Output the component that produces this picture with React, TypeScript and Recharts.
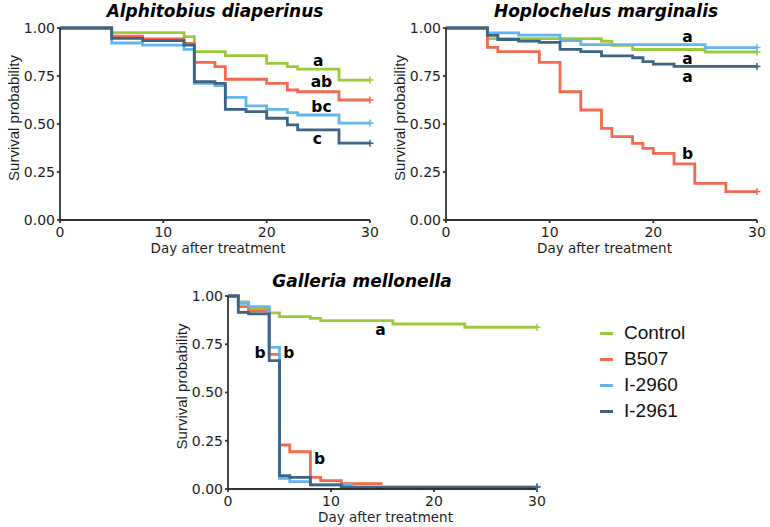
import { LineChart, Line, XAxis, YAxis, ReferenceDot, Legend, Label } from "recharts";

const seriesNames = ["Control", "B507", "I-2960", "I-2961"];
const seriesColors = ["#9BCB3C", "#F26A4F", "#63B5EC", "#3D6385"];

const xTicks = [0, 10, 20, 30];
const yTicks = [0, 0.25, 0.5, 0.75, 1];

// Alphitobius diaperinus
const adControlDays = [0, 5, 12, 13, 16, 20, 22, 23, 27, 30];
const adControlSurv = [1, 0.976, 0.955, 0.877, 0.856, 0.816, 0.799, 0.786, 0.729, 0.729];
const adB507Days = [0, 5, 8, 12, 13, 15, 16, 20, 22, 23, 27, 30];
const adB507Surv = [1, 0.958, 0.943, 0.92, 0.821, 0.799, 0.733, 0.712, 0.677, 0.668, 0.625, 0.625];
const adI2960Days = [0, 5, 8, 12, 13, 15, 16, 18, 20, 22, 23, 27, 30];
const adI2960Surv = [1, 0.922, 0.911, 0.889, 0.712, 0.7, 0.639, 0.594, 0.576, 0.559, 0.547, 0.505, 0.505];
const adI2961Days = [0, 5, 8, 12, 13, 15, 16, 18, 20, 22, 23, 27, 30];
const adI2961Surv = [1, 0.946, 0.934, 0.911, 0.72, 0.712, 0.576, 0.564, 0.53, 0.495, 0.469, 0.4, 0.4];
const adLetters = ["a", "ab", "bc", "c"];
const adLetterDays = [25, 25.3, 25.3, 24.9];
const adLetterSurv = [0.833, 0.72, 0.59, 0.427];

// Hoplochelus marginalis
const hmControlDays = [0, 4, 15, 16, 18, 25, 30];
const hmControlSurv = [1, 0.945, 0.93, 0.91, 0.888, 0.875, 0.875];
const hmB507Days = [0, 4, 5, 9, 11, 13, 15, 16, 18, 19, 20, 22, 24, 27, 30];
const hmB507Surv = [1, 0.899, 0.877, 0.821, 0.668, 0.573, 0.477, 0.434, 0.399, 0.373, 0.347, 0.292, 0.191, 0.148, 0.148];
const hmI2960Days = [0, 4, 7, 11, 13, 25, 30];
const hmI2960Surv = [1, 0.975, 0.963, 0.935, 0.913, 0.898, 0.898];
const hmI2961Days = [0, 4, 5, 7, 9, 11, 13, 15, 18, 19, 20, 22, 30];
const hmI2961Surv = [1, 0.962, 0.94, 0.932, 0.925, 0.889, 0.877, 0.855, 0.845, 0.825, 0.812, 0.8, 0.8];
const hmLetters = ["a", "a", "a", "b"];
const hmLetterDays = [23.3, 23.3, 23.3, 23.3];
const hmLetterSurv = [0.955, 0.84, 0.745, 0.344];

// Galleria mellonella
const gmControlDays = [0, 1, 2, 4, 5, 8, 9, 16, 23, 30];
const gmControlSurv = [1, 0.97, 0.935, 0.913, 0.893, 0.884, 0.872, 0.855, 0.838, 0.838];
const gmB507Days = [0, 1, 2, 4, 5, 6, 8, 9, 11, 15];
const gmB507Surv = [1, 0.945, 0.922, 0.698, 0.228, 0.193, 0.06, 0.043, 0.028, 0.028];
const gmI2960Days = [0, 1, 2, 4, 5, 6, 8, 12, 30];
const gmI2960Surv = [1, 0.962, 0.945, 0.734, 0.055, 0.038, 0.021, 0.01, 0.01];
const gmI2961Days = [0, 1, 2, 4, 5, 6, 8, 11, 30];
const gmI2961Surv = [1, 0.915, 0.907, 0.665, 0.069, 0.06, 0.021, 0.01, 0.01];
const gmLetters = ["a", "b", "b", "b"];
const gmLetterDays = [14.8, 3.1, 5.9, 8.9];
const gmLetterSurv = [0.824, 0.705, 0.705, 0.16];

const toPoints = (days: number[], surv: number[]) => days.map((day, i) => ({ day, surv: surv[i] }));

const tickFont = { fontSize: 14, fill: "#1e1e1e", fontFamily: "DejaVu Sans" };
const axisColor = "#333";

const yTitle = (props: any) => {
  const vb = props.viewBox;
  const cx = vb.x + 3;
  const cy = vb.y + vb.height / 2 - 6;
  return (
    <text x={cx} y={cy} transform={`rotate(-90 ${cx} ${cy})`} textAnchor="middle" dominantBaseline="central"
      fontSize={15} fontFamily="Liberation Sans, Arial" fill="#1e1e1e">
      Survival probability
    </text>
  );
};

const xTitle = (props: any) => {
  const vb = props.viewBox;
  return (
    <text x={vb.x + vb.width / 2 + 3} y={vb.y + 28} textAnchor="middle" dominantBaseline="central"
      fontSize={13.5} fontFamily="DejaVu Sans" fill="#1e1e1e">
      Day after treatment
    </text>
  );
};

const censorDot = (color: string, lastIndex: number, lastDay: number) => (p: any) => {
  if (p.index !== lastIndex || lastDay !== 30) return <g key={p.index} />;
  return <path key={p.index} d={`M${p.cx - 3.5},${p.cy}h7M${p.cx},${p.cy - 3.5}v7`} stroke={color} strokeWidth={1.5} fill="none" />;
};

const LegendBox = ({ payload }: any) => {
  const items = [...(payload || [])].sort((a: any, b: any) => seriesNames.indexOf(a.value) - seriesNames.indexOf(b.value));
  return (
    <div style={{ fontFamily: "Liberation Sans, Arial", fontSize: 19, color: "#111" }}>
      {items.map((e: any) => (
        <div key={e.value} style={{ display: "flex", alignItems: "center", height: 26 }}>
          <span style={{ display: "inline-block", width: 13, height: 3, background: e.color, marginRight: 11 }} />
          <span>{e.value}</span>
        </div>
      ))}
    </div>
  );
};

function Panel({ left, top, width, height, margin, days, surv, letters, letterDays, letterSurv, legend }: any) {
  return (
    <div style={{ position: "absolute", left, top }}>
      <LineChart width={width} height={height} margin={margin}>
        <XAxis type="number" dataKey="day" domain={[0, 30]} ticks={xTicks} interval={0} height={30}
          tick={tickFont} tickSize={3} tickMargin={4} stroke={axisColor} strokeWidth={1.8}
          tickLine={{ stroke: axisColor }} allowDuplicatedCategory={false}>
          <Label content={xTitle} />
        </XAxis>
        <YAxis type="number" domain={[0, 1]} ticks={yTicks} interval={0} width={50}
          tickFormatter={(v: number) => v.toFixed(2)} tick={tickFont} tickSize={3} tickMargin={2}
          stroke={axisColor} strokeWidth={1.8} tickLine={{ stroke: axisColor }}>
          <Label content={yTitle} />
        </YAxis>
        {seriesNames.map((name, s) => {
          const pts = toPoints(days[s], surv[s]);
          return (
            <Line key={name} name={name} data={pts} dataKey="surv" type="stepAfter" stroke={seriesColors[s]}
              strokeWidth={2.8} dot={censorDot(seriesColors[s], pts.length - 1, days[s][days[s].length - 1])}
              activeDot={false} isAnimationActive={false} />
          );
        })}
        {letters.map((t: string, i: number) => (
          <ReferenceDot key={i} x={letterDays[i]} y={letterSurv[i]} r={0} stroke="none"
            label={{ value: t, position: "center", fill: "#000", fontSize: 15.5, fontWeight: 700, fontFamily: "DejaVu Sans" }} />
        ))}
        {legend && (
          <Legend layout="vertical" align="center" verticalAlign="middle" content={<LegendBox />}
            wrapperStyle={{ left: 440, top: 60, width: 130 }} />
        )}
      </LineChart>
    </div>
  );
}

const titleStyle = (cx: number, cy: number): any => ({
  position: "absolute", left: cx - 160, top: cy - 11, width: 320, height: 22, lineHeight: "22px",
  textAlign: "center", fontFamily: "DejaVu Sans", fontStyle: "italic", fontWeight: 700, fontSize: 17, color: "#000",
});

export default function App() {
  return (
    <div style={{ position: "absolute", left: 0, top: 0, width: 770, height: 527, background: "#fff" }}>
      <div style={titleStyle(215, 11)}>Alphitobius diaperinus</div>
      <div style={titleStyle(606, 11)}>Hoplochelus marginalis</div>
      <div style={titleStyle(362, 281)}>Galleria mellonella</div>
      <Panel left={0} top={0} width={385} height={260} margin={{ top: 28, right: 15, bottom: 10, left: 10 }}
        days={[adControlDays, adB507Days, adI2960Days, adI2961Days]}
        surv={[adControlSurv, adB507Surv, adI2960Surv, adI2961Surv]}
        letters={adLetters} letterDays={adLetterDays} letterSurv={adLetterSurv} />
      <Panel left={385} top={0} width={385} height={260} margin={{ top: 28, right: 13, bottom: 10, left: 11 }}
        days={[hmControlDays, hmB507Days, hmI2960Days, hmI2961Days]}
        surv={[hmControlSurv, hmB507Surv, hmI2960Surv, hmI2961Surv]}
        letters={hmLetters} letterDays={hmLetterDays} letterSurv={hmLetterSurv} />
      <Panel left={160} top={260} width={610} height={267} margin={{ top: 36, right: 233, bottom: 8, left: 18 }}
        days={[gmControlDays, gmB507Days, gmI2960Days, gmI2961Days]}
        surv={[gmControlSurv, gmB507Surv, gmI2960Surv, gmI2961Surv]}
        letters={gmLetters} letterDays={gmLetterDays} letterSurv={gmLetterSurv} legend />
    </div>
  );
}
